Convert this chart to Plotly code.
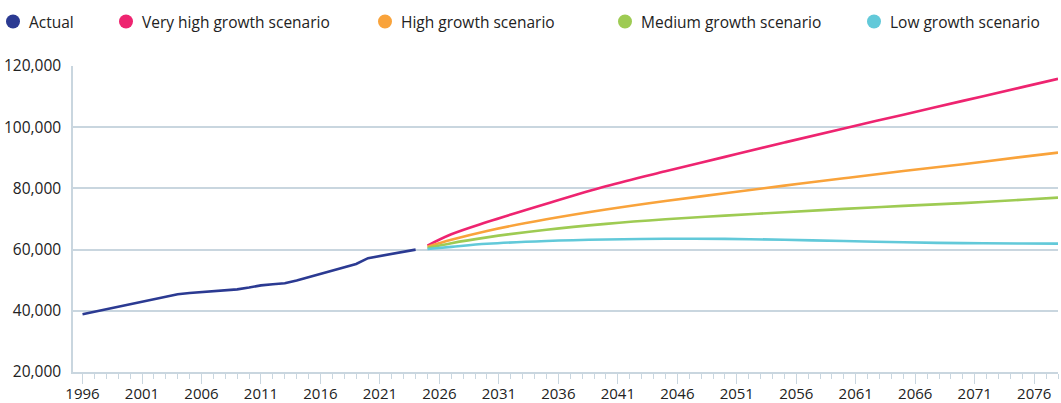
import plotly.graph_objects as go

# Historical population, one value per year
actual_years = list(range(1996, 2025))
actual_values = [
    38900, 39700, 40500, 41200, 42000, 42800, 43600, 44500, 45400, 45800,
    46100, 46400, 46700, 47000, 47600, 48300, 48700, 49000, 49900, 51000,
    52200, 53300, 54400, 55300, 57200, 57900, 58500, 59300, 60000,
]

# Projection scenarios
proj_years = [2025, 2027, 2030, 2035, 2040, 2045, 2050, 2055, 2060, 2065, 2070, 2075, 2078]
very_high = [61300, 65000, 69000, 75000, 80700, 85600, 90300, 95000, 99600, 104100, 108600, 113100, 115800]
high = [60900, 63200, 66100, 69900, 73100, 75900, 78400, 80900, 83300, 85700, 87900, 90300, 91700]
medium = [60500, 62100, 64000, 66500, 68400, 69900, 71100, 72200, 73300, 74300, 75200, 76300, 77000]
low = [60200, 60900, 61900, 62800, 63300, 63550, 63500, 63200, 62800, 62400, 62100, 62000, 61950]

series = [
    ("Actual", actual_years, actual_values, "#2B3A92", "linear"),
    ("Very high growth scenario", proj_years, very_high, "#EE2470", "spline"),
    ("High growth scenario", proj_years, high, "#F9A33B", "spline"),
    ("Medium growth scenario", proj_years, medium, "#9ECB53", "spline"),
    ("Low growth scenario", proj_years, low, "#62C9D9", "spline"),
]

# Legend entry swatch centres (pixels from the left page edge)
legend_swatch_px = [13, 126, 385, 625, 874]

W, H = 1061, 403
ML, MR, MT, MB = 73, 3, 66, 31
FONT = "Open Sans"
TEXT = "#222222"
GRID = "#C9D6DF"

fig = go.Figure()
for name, xs, ys, color, shape in series:
    fig.add_trace(go.Scatter(
        x=xs, y=ys, mode="lines", name=name, showlegend=False,
        line=dict(color=color, width=2.6, shape=shape, smoothing=1.0),
    ))

# Legend row across the top: filled circles followed by labels
plot_w = W - ML - MR
plot_h = H - MT - MB
legend_y = (H - MB - 21.5) / plot_h
for (name, _, _, color, _), px in zip(series, legend_swatch_px):
    xp = (px - ML) / plot_w
    fig.add_shape(
        type="circle", xref="paper", yref="paper",
        xsizemode="pixel", ysizemode="pixel", xanchor=xp, yanchor=legend_y,
        x0=-7, x1=7, y0=-7, y1=7,
        fillcolor=color, line=dict(width=0),
    )
    fig.add_annotation(
        x=(px + 14 - ML) / plot_w, y=legend_y, xref="paper", yref="paper",
        text=name, showarrow=False, xanchor="left", yanchor="middle",
        font=dict(family=FONT, size=15.5, color=TEXT),
    )

fig.update_layout(
    width=W, height=H,
    margin=dict(l=ML, r=MR, t=MT, b=MB, autoexpand=False),
    paper_bgcolor="white", plot_bgcolor="white",
    font=dict(family=FONT, size=15, color=TEXT),
    showlegend=False,
    xaxis=dict(
        range=[1995.2, 2078.0], tickmode="linear", tick0=1996, dtick=5,
        ticks="outside", ticklen=10, tickcolor=GRID, tickwidth=1,
        minor=dict(dtick=1, tick0=1996, ticks="outside", ticklen=5, tickcolor=GRID),
        showline=True, linecolor=GRID, linewidth=1.5,
        showgrid=False, zeroline=False, ticklabelstandoff=-3,
        tickfont=dict(size=15, color=TEXT),
    ),
    yaxis=dict(
        range=[20000, 120000], tickmode="linear", tick0=20000, dtick=20000,
        tickformat=",d", showgrid=True, gridcolor=GRID, gridwidth=1.5,
        showline=True, linecolor=GRID, linewidth=1.5, zeroline=False,
        ticks="", ticklabelstandoff=7,
        tickfont=dict(size=15.5, color=TEXT),
    ),
)

fig.write_html("out.html")
